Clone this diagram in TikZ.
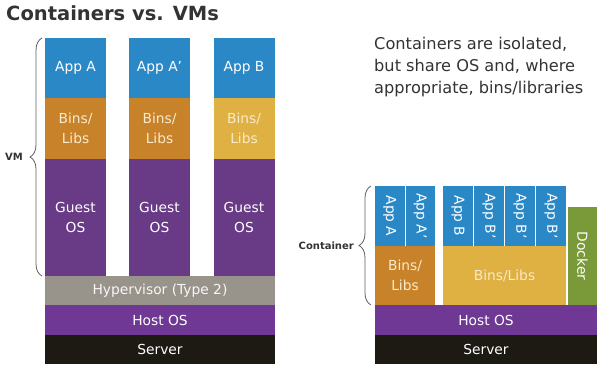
\documentclass[tikz,border=0pt]{standalone}
\usepackage{fontspec}
\setmainfont{DejaVu Sans}
\usetikzlibrary{decorations.pathreplacing}
\definecolor{appblue}{RGB}{43,136,199}
\definecolor{binsorange}{RGB}{200,131,42}
\definecolor{binsyellow}{RGB}{223,176,66}
\definecolor{guestpurple}{RGB}{105,58,133}
\definecolor{hostpurple}{RGB}{111,56,148}
\definecolor{hypergray}{RGB}{153,148,139}
\definecolor{serverblack}{RGB}{29,26,20}
\definecolor{dockergreen}{RGB}{122,154,58}
\definecolor{textgray}{RGB}{51,51,51}
\definecolor{bracegray}{RGB}{95,95,95}
\definecolor{cream}{RGB}{248,234,204}

\begin{document}
\begin{tikzpicture}[x=1pt, y=-1pt,
    layer/.style={rectangle, inner sep=0pt, text=white, align=center,
      font=\fontsize{13.8}{19.5}\selectfont},
    slim/.style={layer, rotate=-90, minimum width=60pt},
    sidebrace/.style={draw=bracegray, line width=0.8pt, decorate,
      decoration={brace, amplitude=12pt}},
    sidelabel/.style={anchor=east, inner sep=0pt, text=textgray,
      font=\bfseries\fontsize{10}{12}\selectfont}]
    \useasboundingbox (0,0) rectangle (600,368);

    % title and note
    \node[anchor=base west, inner sep=0pt, text=textgray,
      font=\bfseries\fontsize{19.5}{22}\selectfont] (title) at (6,20) {Containers vs. VMs};
    \node[anchor=north west, inner sep=0pt, text=textgray, align=left,
      font=\fontsize{16.2}{22}\selectfont] (note) at (374,37)
      {Containers are isolated,\\but share OS and, where\\appropriate, bins/libraries};

    % virtual machines
    \foreach \x/\app/\bins/\name in {75.5/App A/binsorange/a, 159.5/App A'/binsorange/b, 244/App B/binsyellow/c} {
      \node[layer, fill=appblue, minimum width=61pt, minimum height=60pt] (vmapp-\name) at (\x,68) {\app};
      \node[layer, fill=\bins, text=cream, minimum width=61pt, minimum height=61pt] (vmbins-\name) at (\x,128.5) {Bins/\\Libs};
      \node[layer, fill=guestpurple, minimum width=61pt, minimum height=117pt] (guest-\name) at (\x,217.5) {Guest\\OS};
    }
    \node[layer, fill=hypergray, text=white!92!hypergray, minimum width=230pt, minimum height=29pt] (hyper) at (160,290.5) {Hypervisor (Type 2)};
    \node[layer, fill=hostpurple, minimum width=230pt, minimum height=30pt] (vmhost) at (160,320) {Host OS};
    \node[layer, fill=serverblack, minimum width=230pt, minimum height=29pt] (vmserver) at (160,349.5) {Server};

    \coordinate (vmtop) at (42,38);
    \coordinate (vmbottom) at (42,276);
    \draw[sidebrace] (vmbottom) -- (vmtop);
    \node[sidelabel] (vmlabel) at (23,157) {VM};

    % containers
    \node[slim, fill=appblue, minimum height=29.5pt] (ctapp-a) at (389.75,216) {App A};
    \node[slim, fill=appblue, minimum height=29.5pt] (ctapp-b) at (420.25,216) {App A'};
    \foreach \x/\app/\name in {458/App B/c, 489/App B'/d, 520/App B'/e, 551/App B'/f}
      \node[slim, fill=appblue, minimum height=30pt] (ctapp-\name) at (\x,216) {\app};
    \node[layer, fill=binsorange, text=cream, minimum width=60pt, minimum height=59pt] (ctbins-a) at (405,275.5) {Bins/\\Libs};
    \node[layer, fill=binsyellow, text=cream, minimum width=123pt, minimum height=59pt] (ctbins-b) at (504.5,275.5) {Bins/Libs};
    \node[slim, fill=dockergreen, minimum width=98pt, minimum height=29pt] (docker) at (582.5,256) {Docker};
    \node[layer, fill=hostpurple, minimum width=222pt, minimum height=30pt] (cthost) at (486,320) {Host OS};
    \node[layer, fill=serverblack, minimum width=222pt, minimum height=29pt] (ctserver) at (486,349.5) {Server};

    \coordinate (cttop) at (371,186);
    \coordinate (ctbottom) at (371,305);
    \draw[sidebrace] (ctbottom) -- (cttop);
    \node[sidelabel] (ctlabel) at (354,246) {Container};
\end{tikzpicture}
\end{document}
